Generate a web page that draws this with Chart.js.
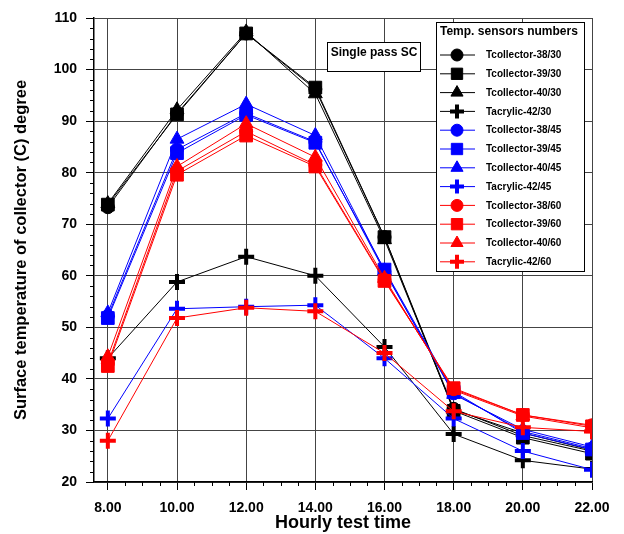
<!DOCTYPE html>
<html>
<head>
<meta charset="utf-8">
<script src="https://cdn.jsdelivr.net/npm/chart.js@4/dist/chart.umd.min.js"></script>
<style>
  html, body { margin: 0; padding: 0; background: #fff; }
  #wrap { width: 624px; height: 534px; }
</style>
</head>
<body>
<div id="wrap"><canvas id="tempChart" width="624" height="534"></canvas></div>
<script>
// hour of the test (x axis)
var hours = [8, 10, 12, 14, 16, 18, 20, 22];

// surface temperatures, deg C
var c38_30 = [73.3, 91.5, 107.0, 96.2, 67.5, 34.2, 29.0, 26.0];
var c39_30 = [73.8, 91.3, 107.0, 96.5, 67.5, 33.8, 28.6, 25.5];
var c40_30 = [74.0, 92.2, 107.3, 95.3, 67.0, 34.0, 29.5, 26.2];
var a42_30 = [44.0, 58.8, 63.7, 60.0, 46.2, 29.3, 24.2, 22.5];
var c38_45 = [52.2, 84.5, 91.5, 86.0, 60.8, 37.2, 29.8, 26.5];
var c39_45 = [51.8, 83.8, 91.2, 85.8, 61.2, 37.5, 29.5, 26.3];
var c40_45 = [52.8, 86.5, 93.3, 87.2, 61.0, 37.0, 30.2, 26.8];
var a42_45 = [32.3, 53.6, 54.0, 54.3, 44.0, 32.3, 26.0, 22.4];
var c38_60 = [43.0, 80.3, 88.0, 81.5, 59.2, 38.0, 33.0, 31.0];
var c39_60 = [42.5, 79.6, 87.2, 81.2, 59.0, 38.2, 33.0, 30.8];
var c40_60 = [44.3, 81.2, 89.5, 83.0, 59.5, 37.8, 32.8, 30.5];
var a42_60 = [28.0, 51.8, 53.8, 53.1, 45.0, 33.7, 30.6, 29.8];

var yTicks = [20, 30, 40, 50, 60, 70, 80, 90, 100, 110];

var FONT = 'Arial, "Liberation Sans", sans-serif';

var series = [
  ['Tcollector-38/30', c38_30, '#000000', 'circle'],
  ['Tcollector-39/30', c39_30, '#000000', 'rect'],
  ['Tcollector-40/30', c40_30, '#000000', 'triangle'],
  ['Tacrylic-42/30',   a42_30, '#000000', 'cross'],
  ['Tcollector-38/45', c38_45, '#0000ff', 'circle'],
  ['Tcollector-39/45', c39_45, '#0000ff', 'rect'],
  ['Tcollector-40/45', c40_45, '#0000ff', 'triangle'],
  ['Tacrylic-42/45',   a42_45, '#0000ff', 'cross'],
  ['Tcollector-38/60', c38_60, '#ff0000', 'circle'],
  ['Tcollector-39/60', c39_60, '#ff0000', 'rect'],
  ['Tcollector-40/60', c40_60, '#ff0000', 'triangle'],
  ['Tacrylic-42/60',   a42_60, '#ff0000', 'cross']
];

var radiusFor = { circle: 6.5, rect: 9, triangle: 8, cross: 8 };

var datasets = series.map(function(s, i) {
  var isCross = s[3] === 'cross';
  return {
    label: s[0],
    data: hours.map(function(h, j) { return { x: h, y: s[1][j] }; }),
    borderColor: s[2],
    backgroundColor: s[2],
    borderWidth: 1,
    pointStyle: s[3],
    pointRadius: radiusFor[s[3]],
    pointHoverRadius: radiusFor[s[3]],
    pointBorderWidth: isCross ? 4 : 1,
    pointBackgroundColor: s[2],
    pointBorderColor: s[2],
    tension: 0,
    order: series.length - 1 - i  // later series on top
  };
});

// boxed legend, caption box and the minor ticks
var decorations = {
  id: 'decorations',
  afterDraw: function(chart) {
    var ctx = chart.ctx;
    var xs = chart.scales.x, ys = chart.scales.y;
    var area = chart.chartArea;
    ctx.save();

    // minor ticks
    ctx.strokeStyle = '#000';
    ctx.lineWidth = 1;
    ctx.beginPath();
    for (var v = 20; v <= 110; v += 2) {
      if (v % 10 === 0) continue;
      var py = Math.round(ys.getPixelForValue(v)) + 0.5;
      ctx.moveTo(area.left - 4, py);
      ctx.lineTo(area.left, py);
    }
    for (var h = 8; h <= 22; h += 0.5) {
      if (h % 2 === 0) continue;
      var px = Math.round(xs.getPixelForValue(h)) + 0.5;
      ctx.moveTo(px, area.bottom);
      ctx.lineTo(px, area.bottom + 4);
    }
    ctx.stroke();

    // caption
    ctx.fillStyle = '#fff';
    ctx.fillRect(327, 42, 93, 29);
    ctx.strokeStyle = '#000';
    ctx.lineWidth = 1;
    ctx.strokeRect(327.5, 42.5, 93, 29);
    ctx.fillStyle = '#000';
    ctx.font = 'bold 12px ' + FONT;
    ctx.textAlign = 'center';
    ctx.textBaseline = 'middle';
    ctx.fillText('Single pass SC', 374, 53);

    // legend
    var lx = 436, ly = 22, lw = 148, lh = 249;
    ctx.fillStyle = '#fff';
    ctx.fillRect(lx, ly, lw, lh);
    ctx.strokeStyle = '#000';
    ctx.strokeRect(lx + 0.5, ly + 0.5, lw, lh);
    ctx.fillStyle = '#000';
    ctx.textAlign = 'left';
    ctx.font = 'bold 12px ' + FONT;
    ctx.fillText('Temp. sensors numbers', 440, 32);
    chart.data.datasets.forEach(function(ds, i) {
      var yy = 55 + i * 18.8;
      ctx.strokeStyle = ds.borderColor;
      ctx.lineWidth = 1;
      ctx.beginPath();
      ctx.moveTo(440, yy);
      ctx.lineTo(475, yy);
      ctx.stroke();
      ctx.fillStyle = ds.backgroundColor;
      ctx.lineWidth = ds.pointBorderWidth;
      var r = ds.pointStyle === 'rect' ? 8 : ds.pointStyle === 'circle' ? 6 : 7;
      Chart.helpers.drawPoint(ctx, { pointStyle: ds.pointStyle, radius: r, borderWidth: ds.pointBorderWidth, rotation: 0 }, 457, yy);
      ctx.fillStyle = '#000';
      ctx.font = 'bold 10px ' + FONT;
      ctx.fillText(ds.label, 486, yy + 0.5);
    });
    ctx.restore();
  }
};

var ctx = document.getElementById('tempChart').getContext('2d');
var chart = new Chart(ctx, {
  type: 'line',
  data: { datasets: datasets },
  options: {
    responsive: false,
    animation: false,
    events: [],
    layout: { padding: { top: 18, right: 32, left: 0, bottom: 0 } },
    plugins: {
      legend: { display: false },
      tooltip: { enabled: false }
    },
    scales: {
      x: {
        type: 'linear',
        min: 7.6,
        max: 22,
        afterBuildTicks: function(scale) {
          scale.ticks = hours.map(function(h) { return { value: h }; });
        },
        afterFit: function(scale) { scale.height = 52; },
        ticks: {
          color: '#000',
          font: { family: FONT, size: 14, weight: 'bold' },
          padding: 10,
          maxRotation: 0,
          callback: function(v) { return Number(v).toFixed(2); }
        },
        grid: { color: '#444', lineWidth: 1, tickLength: 8, tickColor: '#000' },
        border: { color: '#000', width: 1.5 },
        title: {
          display: true,
          text: 'Hourly test time',
          color: '#000',
          font: { family: FONT, size: 18, weight: 'bold' },
          padding: { top: 0, bottom: 0 }
        }
      },
      y: {
        min: 20,
        max: 110,
        afterBuildTicks: function(scale) {
          scale.ticks = yTicks.map(function(v) { return { value: v }; });
        },
        afterFit: function(scale) { scale.width = 94; },
        ticks: {
          color: '#000',
          font: { family: FONT, size: 14, weight: 'bold' },
          padding: 9
        },
        grid: { color: '#444', lineWidth: 1, tickLength: 8, tickColor: '#000' },
        border: { color: '#000', width: 1.5 },
        title: {
          display: true,
          text: 'Surface temperature of collector (C) degree',
          color: '#000',
          font: { family: FONT, size: 16.5, weight: 'bold' },
          padding: { top: 12, bottom: 0 }
        }
      }
    }
  },
  plugins: [decorations]
});
</script>
</body>
</html>
